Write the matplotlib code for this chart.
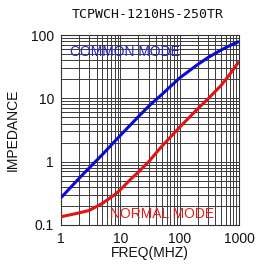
import matplotlib
matplotlib.use('Agg')
import matplotlib.pyplot as plt
from matplotlib.ticker import FixedLocator, FixedFormatter, NullFormatter

# values
freq_cm = [1, 2, 3, 5, 10, 20, 30, 50, 100, 200, 300, 500, 700, 1000]
z_cm = [0.27, 0.54, 0.80, 1.3, 2.6, 5.1, 7.5, 11.5, 21, 34, 44, 58, 68, 79]

freq_nm = [1, 2, 3, 5, 8, 10, 15, 20, 30, 50, 100, 200, 300, 500, 700, 1000]
z_nm = [0.135, 0.155, 0.17, 0.22, 0.30, 0.36, 0.53, 0.68, 1.0, 1.75, 3.5, 6.8, 9.8, 16, 24, 38]

x_ticks = [1, 10, 100, 1000]
x_labels = ['1', '10', '100', '1000']
y_ticks = [0.1, 1, 10, 100]
y_labels = ['0.1', '1', '10', '100']

title = 'TCPWCH-1210HS-250TR'
xlabel = 'FREQ(MHZ)'
ylabel = 'IMPEDANCE'

plt.rcParams['font.family'] = ['Liberation Sans', 'DejaVu Sans']

fig = plt.figure(figsize=(2.6, 2.68), dpi=100)
ax = fig.add_axes([61 / 260, 1 - 225 / 268, 178 / 260, 190 / 268])

ax.set_xscale('log')
ax.set_yscale('log')
ax.set_xlim(1, 1000)
ax.set_ylim(0.1, 100)

ax.plot(freq_cm, z_cm, color='#0a0ad2', lw=2.2, solid_capstyle='butt', zorder=3)
ax.plot(freq_nm, z_nm, color='#e01414', lw=2.2, solid_capstyle='butt', zorder=3)

ax.xaxis.set_major_locator(FixedLocator(x_ticks))
ax.xaxis.set_major_formatter(FixedFormatter(x_labels))
ax.yaxis.set_major_locator(FixedLocator(y_ticks))
ax.yaxis.set_major_formatter(FixedFormatter(y_labels))
ax.xaxis.set_minor_formatter(NullFormatter())
ax.yaxis.set_minor_formatter(NullFormatter())
ax.tick_params(which='both', length=0, labelsize=10, pad=5, colors='#111111')

ax.grid(True, which='both', color='#3a3a3a', lw=0.7)
for sp in ax.spines.values():
    sp.set_color('#333333')
    sp.set_linewidth(0.8)

ax.text(0.05, 0.91, 'COMMON MODE', transform=ax.transAxes, color='#2424c8',
        fontsize=10, va='center', ha='left', zorder=4)
ax.text(0.275, 0.058, 'NORMAL MODE', transform=ax.transAxes, color='#e02020',
        fontsize=10, va='center', ha='left', zorder=4)

fig.text(148 / 260, 1 - 15 / 268, title, family='DejaVu Sans Mono', fontsize=9.5,
         ha='center', va='center', color='#111111')
fig.text(150 / 260, 1 - 253 / 268, xlabel, fontsize=10, ha='center', va='center', color='#111111')
fig.text(13 / 260, 1 - 130 / 268, ylabel, fontsize=10, ha='center', va='center',
         rotation=90, color='#111111')

fig.savefig('out.png', dpi=100)
